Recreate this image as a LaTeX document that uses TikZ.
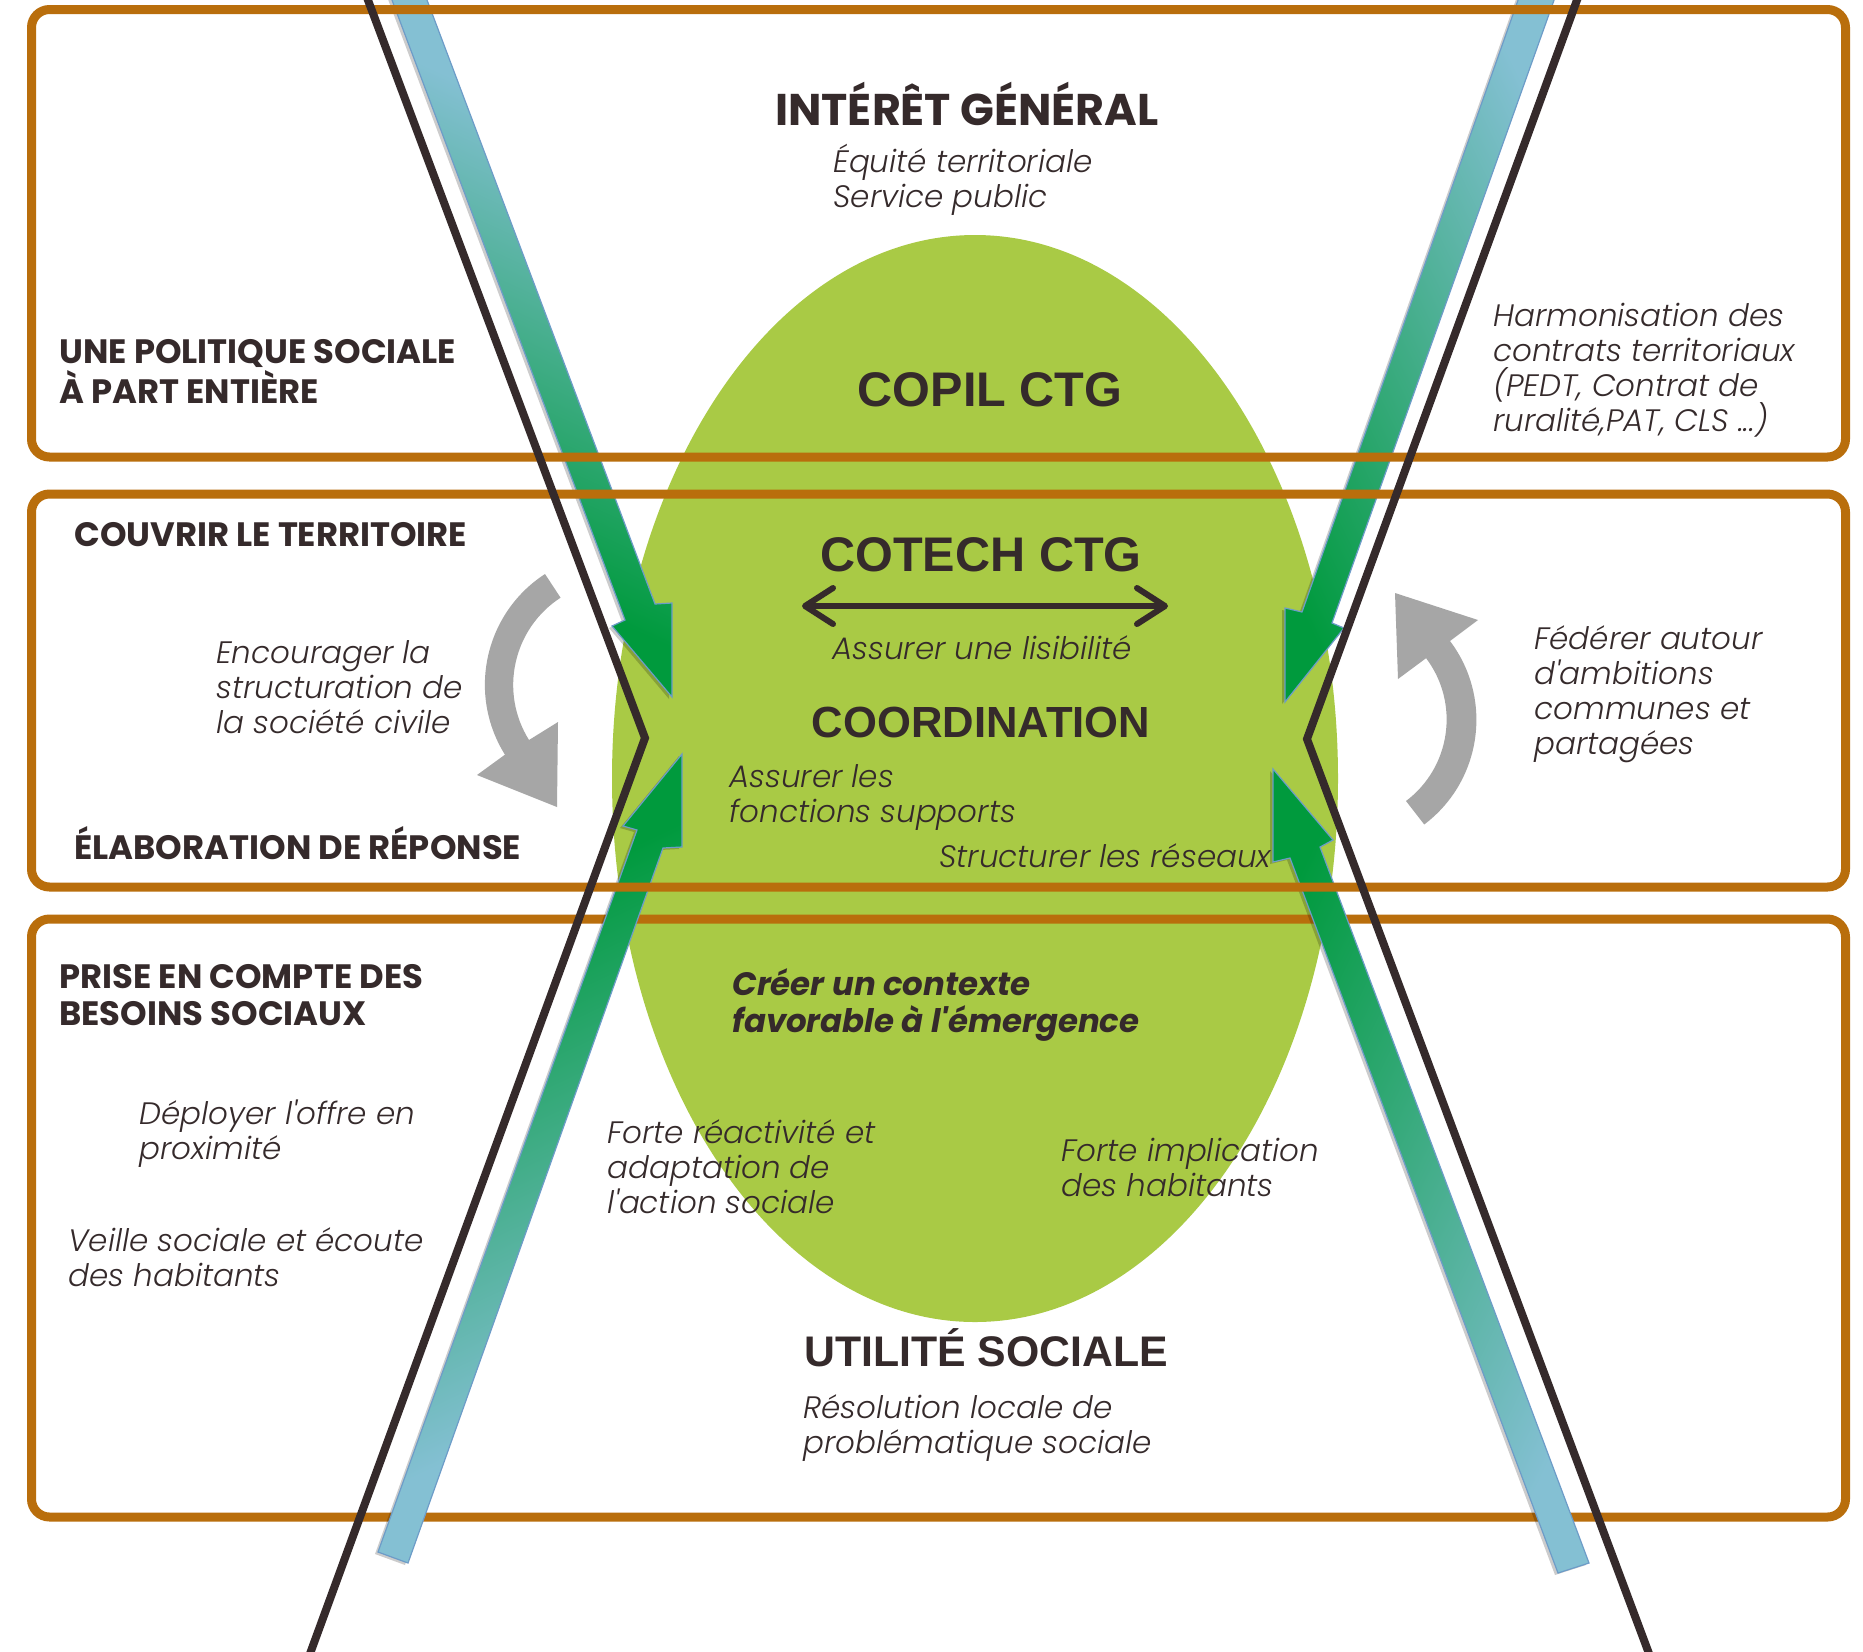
\documentclass[tikz,border=0pt]{standalone}
\usepackage{fontspec}
\usetikzlibrary{arrows.meta}
\newfontfamily\popp{Poppins}
\newfontfamily\arl{Liberation Sans}
\IfFontExistsTF{Poppins Light Italic}{\newfontfamily\itf{Poppins Light Italic}}{\newfontfamily\itf{Poppins Italic}}
\definecolor{orng}{HTML}{B96E0C}
\definecolor{lime}{HTML}{A9CA45}
\definecolor{ink}{HTML}{352A2B}
\definecolor{gry}{HTML}{A6A6A6}
\definecolor{agreen}{HTML}{009A3D}
\definecolor{amid}{HTML}{3FA979}
\definecolor{ablue}{HTML}{84C0D3}
\definecolor{aline}{HTML}{6D9CC8}
\def\pTL{(390.5,-4) -- (625,620) -- (612,626) -- (672,697) -- (672,603) -- (655,604) -- (425.5,-4) -- cycle}
\def\pTR{(1519.5,-4) -- (1302,612) -- (1285,608) -- (1285,702) -- (1344,628) -- (1332,623) -- (1555.5,-4) -- cycle}
\def\pBL{(378,1552) -- (637,830) -- (623,826) -- (682,754) -- (682,847) -- (663,848) -- (408,1563) -- cycle}
\def\pBR{(1589,1563) -- (1320,847) -- (1333,840) -- (1273,769) -- (1273,862) -- (1290,858) -- (1558,1573) -- cycle}
\begin{document}
\begin{tikzpicture}[x=0.5pt,y=-0.5pt,
  box/.style={draw=orng, line width=4.5pt, rounded corners=9pt},
  blk/.style={draw=ink, line width=4pt},
  ashadow/.style={fill=black, opacity=0.2, shift={(-3,2)}},
  aout/.style={draw=aline, line width=0.6pt},
  garr/.style={fill=gry},
  dbl/.style={draw=ink, line width=3pt, line cap=round,
    {Straight Barb[length=14pt,width=18pt,line cap=round,line join=round]}-{Straight Barb[length=14pt,width=18pt,line cap=round,line join=round]}},
  lab/.style={font=\popp\bfseries\fontsize{16.9}{18.5}\selectfont, text=ink, anchor=base west, inner sep=0, align=left},
  hd/.style={font=\popp\bfseries\fontsize{22.2}{25}\selectfont, text=ink, anchor=base, inner sep=0},
  ctr/.style={font=\arl\bfseries\fontsize{24.3}{28}\selectfont, text=ink, anchor=base, inner sep=0},
  itx/.style={font=\itf\fontsize{15.5}{17.5}\selectfont, text=ink, anchor=base west, inner sep=0, align=left},
  bit/.style={font=\popp\bfseries\itshape\fontsize{16.2}{18.5}\selectfont, text=ink, anchor=base west, inner sep=0, align=left}
]
\useasboundingbox (0,0) rectangle (1863,1651);
\fill[white] (0,0) rectangle (1863,1651);

% central ellipse
\fill[lime] (975,778.5) ellipse [x radius=363, y radius=543.5];

% lower frame (under the arrows)
\draw[box] (31.5,919) rectangle (1845.5,1517);

% green/blue arrows
\fill[ashadow] \pTL;
\fill[ashadow] \pTR;
\fill[ashadow] \pBL;
\fill[ashadow] \pBR;
\begin{scope}
  \clip \pTL;
  \shade[transform canvas={rotate around={20.4:(535,350)}}, top color=ablue, middle color=amid, bottom color=agreen, shading angle=-45] (495,-40) rectangle (575,740);
\end{scope}
\begin{scope}
  \clip \pTR;
  \shade[transform canvas={rotate around={-19.4:(1413,349)}}, top color=ablue, middle color=amid, bottom color=agreen, shading angle=-45] (1373,-41) rectangle (1453,739);
\end{scope}
\begin{scope}
  \clip \pBL;
  \shade[transform canvas={rotate around={-19.6:(537,1155)}}, top color=agreen, middle color=amid, bottom color=ablue, shading angle=45] (497,715) rectangle (577,1595);
\end{scope}
\begin{scope}
  \clip \pBR;
  \shade[transform canvas={rotate around={19.6:(1424,1168)}}, top color=agreen, middle color=amid, bottom color=ablue, shading angle=45] (1384,728) rectangle (1464,1608);
\end{scope}
\draw[aout] \pTL;
\draw[aout] \pTR;
\draw[aout] \pBL;
\draw[aout] \pBR;

% upper frames
\draw[box] (31.5,9.5) rectangle (1845.5,457);
\draw[box] (31.5,494) rectangle (1845.5,887);

% black broken lines
\coordinate (l1) at (365.7,-6);
\coordinate (l2) at (645,738);
\coordinate (l3) at (307.7,1660);
\coordinate (r1) at (1579.2,-6);
\coordinate (r2) at (1307,739);
\coordinate (r3) at (1651.4,1660);
\draw[blk] (l1) -- (l2) -- (l3);
\draw[blk] (r1) -- (r2) -- (r3);

% grey curved arrows
\fill[garr] (545,574) arc[start angle=237, end angle=148, radius=132] -- (477,775) -- (557,807) -- (558,722) -- (529,740) arc[start angle=148, end angle=237, radius=104] -- cycle;
\fill[garr] (1406,801) arc[start angle=53, end angle=-37, radius=102] -- (1398,679) -- (1395,593) -- (1478,620) -- (1450,641) arc[start angle=-37, end angle=53, radius=131] -- cycle;

% double arrow
\coordinate (lisL) at (802,606);
\coordinate (lisR) at (1168,606);
\draw[dbl] (lisL) -- (lisR);

% texts (multi-line nodes: yshift puts the first baseline at the given point)
\node[hd] (ig) at (967,125) {INTÉRÊT GÉNÉRAL};
\node[itx, yshift=-17.5pt] (igs) at (833,172) {Équité territoriale\\Service public};
\node[lab, yshift=-18.5pt] (pol) at (59,366) {UNE POLITIQUE SOCIALE\\À PART ENTIÈRE};
\node[ctr] (copil) at (990,406) {COPIL CTG};
\node[itx, yshift=-52.5pt] (harm) at (1493,326) {Harmonisation des\\contrats territoriaux\\(PEDT, Contrat de\\ruralité,PAT, CLS ...)};
\node[lab] (couv) at (74,546) {COUVRIR LE TERRITOIRE};
\node[ctr] (cotech) at (981,571) {COTECH CTG};
\node[itx] (lis) at (832,659) {Assurer une lisibilité};
\node[itx, yshift=-35pt] (enc) at (216,663) {Encourager la\\structuration de\\la société civile};
\node[ctr, font=\arl\bfseries\fontsize{21.8}{26}\selectfont] (coord) at (981,737) {COORDINATION};
\node[itx, yshift=-17.5pt] (fs) at (729,787) {Assurer les\\fonctions supports};
\node[itx] (res) at (939,867) {Structurer les réseaux};
\node[lab] (elab) at (74,859) {ÉLABORATION DE RÉPONSE};
\node[itx, yshift=-52.5pt] (fed) at (1534,649) {Fédérer autour\\d'ambitions\\communes et\\partagées};
\node[lab, yshift=-18.5pt] (prise) at (59,988) {PRISE EN COMPTE DES\\BESOINS SOCIAUX};
\node[bit, yshift=-18.5pt] (creer) at (732,995) {Créer un contexte\\favorable à l'émergence};
\node[itx, yshift=-17.5pt] (depl) at (139,1124) {Déployer l'offre en\\proximité};
\node[itx, yshift=-35pt] (forte1) at (607,1143) {Forte réactivité et\\adaptation de\\l'action sociale};
\node[itx, yshift=-17.5pt] (forte2) at (1061,1161) {Forte implication\\des habitants};
\node[itx, yshift=-17.5pt] (veille) at (68,1251) {Veille sociale et écoute\\des habitants};
\node[ctr, font=\arl\bfseries\fontsize{21.4}{26}\selectfont] (util) at (986,1366) {UTILITÉ SOCIALE};
\node[itx, yshift=-17.5pt] (reso) at (803,1418) {Résolution locale de\\problématique sociale};
\end{tikzpicture}
\end{document}
